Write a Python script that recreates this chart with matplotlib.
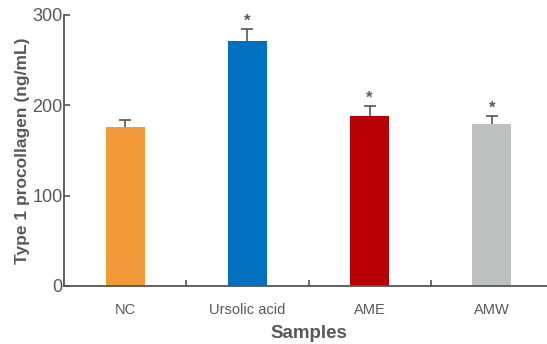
import matplotlib
matplotlib.use("Agg")
import matplotlib.pyplot as plt
from matplotlib.ticker import FixedLocator

# data
samples = ["NC", "Ursolic acid", "AME", "AMW"]
means = [176, 271, 188, 179]
errors = [8, 13, 11, 9.5]
signif = ["", "*", "*", "*"]
bar_colors = ["#F39A3A", "#0070C0", "#B70005", "#BFC0C0"]
y_ticks = [0, 100, 200, 300]

TEXT = "#595959"
plt.rcParams["font.family"] = ["Liberation Sans Narrow", "Liberation Sans", "DejaVu Sans"]

fig = plt.figure(figsize=(5.47, 3.44), dpi=100)
ax = fig.add_axes([64 / 547, 58 / 344, 489 / 547, 271 / 344])

x = list(range(len(samples)))
ax.bar(x, means, width=0.32, color=bar_colors, zorder=2)

# upper error only: stem + cap, no cap at bar top
tops = [m + e for m, e in zip(means, errors)]
ax.vlines(x, means, tops, color="#555555", linewidth=1.2, zorder=3)
ax.plot(x, tops, linestyle="none", marker="_", markersize=8,
        markeredgewidth=1.2, color="#555555", zorder=3)

for xi, t, s in zip(x, tops, signif):
    if s:
        ax.text(xi, t + 0.5, s, ha="center", va="bottom", fontsize=12,
                color=TEXT, fontweight="bold")

ax.set_xlim(-0.5, 3.5)
ax.set_ylim(0, 300)
ax.set_yticks(y_ticks)
ax.set_xticks(x)
ax.set_xticklabels(samples)
ax.xaxis.set_minor_locator(FixedLocator([0.5, 1.5, 2.5]))
ax.tick_params(axis="x", which="major", length=0, pad=12, labelsize=10.5, labelcolor=TEXT)
ax.tick_params(axis="x", which="minor", direction="in", length=4, width=1.2, color="#555555")
ax.tick_params(axis="y", direction="in", length=4, width=1.2, color="#555555",
               labelsize=13, labelcolor=TEXT, pad=1)

for side in ["top", "right"]:
    ax.spines[side].set_visible(False)
for side in ["left", "bottom"]:
    ax.spines[side].set_color("#555555")
    ax.spines[side].set_linewidth(1.3)

ax.set_xlabel("Samples", fontsize=13.5, fontweight="bold", color=TEXT, labelpad=6)
ax.set_ylabel("Type 1 procollagen (ng/mL)", fontsize=12.5, fontweight="bold",
              color=TEXT, labelpad=2)

fig.savefig("out.png", dpi=100)
